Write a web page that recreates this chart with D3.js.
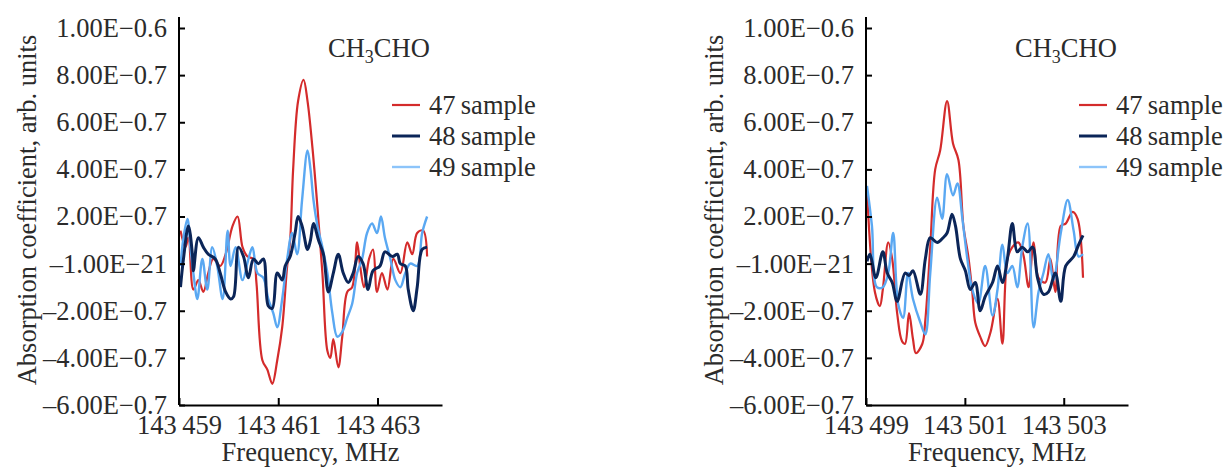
<!DOCTYPE html>
<html>
<head>
<meta charset="utf-8">
<script src="https://cdn.jsdelivr.net/npm/d3@7"></script>
<style>
    body { margin: 0; background: #fff; }
</style>
</head>
<body>
<svg id="chart" width="1224" height="470"></svg>
<script>
// tick values + labels (values in units of 1e-6)
var yTicks = [1.0, 0.8, 0.6, 0.4, 0.2, 0, -0.2, -0.4, -0.6];
var yTickLabels = ["1.00E\u22120.6", "8.00E\u22120.7", "6.00E\u22120.7", "4.00E\u22120.7", "2.00E\u22120.7",
    "\u20131.00E\u221221", "\u20132.00E\u22120.7", "\u20134.00E\u22120.7", "\u20136.00E\u22120.7"];
var leftTicks = [143459, 143461, 143463];
var rightTicks = [143499, 143501, 143503];
var seriesNames = ["47 sample", "48 sample", "49 sample"];

// left panel, sample 47
var leftF47 = [143459.03, 143459.13, 143459.19, 143459.29, 143459.39, 143459.49, 143459.59, 143459.69, 143459.83, 143459.94,
    143460.08, 143460.18, 143460.28, 143460.38, 143460.50, 143460.56, 143460.68, 143460.78, 143460.88, 143460.98,
    143461.08, 143461.18, 143461.24, 143461.30, 143461.40, 143461.51, 143461.59, 143461.69, 143461.79, 143461.89,
    143461.99, 143462.05, 143462.11, 143462.21, 143462.29, 143462.39, 143462.49, 143462.59, 143462.65, 143462.73,
    143462.83, 143462.91, 143462.99, 143463.09, 143463.20, 143463.32, 143463.46, 143463.60, 143463.70, 143463.80,
    143463.92, 143464.00];
var leftV47 = [0.14, 0.07, 0.11, -0.11, -0.07, -0.12, -0.04, 0.02, -0.01, 0.04,
    0.16, 0.20, 0.07, 0.03, 0.02, -0.08, -0.41, -0.45, -0.51, -0.41,
    -0.27, -0.01, 0.10, 0.40, 0.69, 0.78, 0.69, 0.49, 0.24, -0.04,
    -0.37, -0.40, -0.32, -0.44, -0.31, -0.12, -0.10, 0.09, -0.01, -0.10,
    0.02, 0.06, -0.12, -0.04, -0.11, 0.02, -0.04, 0.09, 0.04, 0.13,
    0.14, 0.03];

// left panel, sample 48
var leftF48 = [143459.03, 143459.09, 143459.19, 143459.27, 143459.29, 143459.39, 143459.49, 143459.59, 143459.73, 143459.83,
    143459.94, 143460.04, 143460.10, 143460.20, 143460.30, 143460.40, 143460.50, 143460.60, 143460.70, 143460.80,
    143460.88, 143460.98, 143461.08, 143461.14, 143461.24, 143461.34, 143461.40, 143461.48, 143461.59, 143461.65,
    143461.71, 143461.81, 143461.91, 143462.01, 143462.11, 143462.21, 143462.31, 143462.41, 143462.51, 143462.61,
    143462.71, 143462.81, 143462.91, 143463.05, 143463.15, 143463.30, 143463.40, 143463.46, 143463.56, 143463.62,
    143463.72, 143463.80, 143463.90, 143464.00];
var leftV48 = [-0.10, 0.02, 0.16, 0.04, -0.03, 0.11, 0.07, 0.04, 0.02, -0.04,
    -0.12, -0.15, -0.14, 0.07, 0.03, -0.06, 0.02, 0.00, 0.02, -0.18,
    -0.19, -0.04, -0.07, -0.01, 0.03, 0.13, 0.20, 0.16, 0.06, 0.10,
    0.17, 0.10, 0.04, -0.12, -0.04, 0.04, -0.04, -0.08, -0.04, 0.03,
    0.00, -0.11, -0.03, -0.01, 0.05, 0.03, 0.04, 0.00, -0.01, -0.11,
    -0.20, -0.10, 0.06, 0.07];

// left panel, sample 49
var leftF49 = [143459.03, 143459.09, 143459.17, 143459.23, 143459.29, 143459.37, 143459.47, 143459.57, 143459.67, 143459.77,
    143459.88, 143459.98, 143460.04, 143460.14, 143460.28, 143460.40, 143460.48, 143460.58, 143460.70, 143460.80,
    143460.90, 143460.98, 143461.08, 143461.18, 143461.28, 143461.38, 143461.48, 143461.59, 143461.65, 143461.71,
    143461.79, 143461.89, 143461.99, 143462.09, 143462.19, 143462.29, 143462.39, 143462.49, 143462.59, 143462.69,
    143462.79, 143462.89, 143462.99, 143463.07, 143463.15, 143463.26, 143463.36, 143463.46, 143463.56, 143463.66,
    143463.80, 143463.90, 143464.00];
var leftV49 = [-0.01, 0.11, 0.19, 0.07, -0.04, -0.15, 0.02, -0.11, 0.07, -0.01,
    -0.15, 0.14, -0.01, 0.07, -0.07, 0.02, 0.07, -0.04, -0.06, -0.15,
    -0.21, -0.27, -0.15, 0.02, 0.13, 0.04, 0.27, 0.48, 0.40, 0.27,
    0.16, 0.07, -0.04, -0.21, -0.31, -0.29, -0.23, -0.17, -0.04, 0.02,
    0.13, 0.17, 0.13, 0.20, 0.11, 0.02, -0.07, -0.10, -0.04, 0.00,
    -0.01, 0.13, 0.20];

// right panel, sample 47
var rightF47 = [143499.02, 143499.18, 143499.28, 143499.34, 143499.45, 143499.53, 143499.63, 143499.73, 143499.79, 143499.87,
    143499.95, 143500.01, 143500.14, 143500.20, 143500.30, 143500.40, 143500.50, 143500.64, 143500.76, 143500.87,
    143500.97, 143501.07, 143501.15, 143501.21, 143501.31, 143501.41, 143501.52, 143501.66, 143501.76, 143501.86,
    143501.96, 143502.08, 143502.18, 143502.29, 143502.39, 143502.49, 143502.63, 143502.73, 143502.83, 143502.94,
    143503.04, 143503.18, 143503.28, 143503.39];
var rightV47 = [0.31, -0.12, -0.18, -0.11, 0.09, 0.02, -0.21, -0.33, -0.34, -0.21,
    -0.32, -0.38, -0.34, -0.24, 0.07, 0.40, 0.48, 0.69, 0.51, 0.44,
    0.16, 0.03, -0.12, -0.25, -0.31, -0.35, -0.29, -0.15, -0.34, 0.02,
    0.07, 0.09, 0.04, -0.10, 0.09, -0.06, -0.08, 0.02, -0.12, 0.16,
    0.17, 0.22, 0.19, -0.06];

// right panel, sample 48
var rightF48 = [143499.02, 143499.08, 143499.20, 143499.34, 143499.43, 143499.53, 143499.63, 143499.79, 143499.87, 143499.95,
    143500.10, 143500.20, 143500.30, 143500.44, 143500.56, 143500.64, 143500.74, 143500.81, 143500.91, 143501.01,
    143501.11, 143501.21, 143501.31, 143501.41, 143501.56, 143501.66, 143501.76, 143501.86, 143501.96, 143502.06,
    143502.16, 143502.27, 143502.37, 143502.47, 143502.59, 143502.69, 143502.83, 143502.94, 143503.04, 143503.20,
    143503.30, 143503.39];
var rightV48 = [0.01, 0.04, -0.06, 0.05, -0.04, -0.08, -0.16, -0.04, -0.05, -0.03,
    -0.13, 0.02, 0.11, 0.09, 0.11, 0.13, 0.21, 0.16, 0.02, -0.03,
    -0.11, -0.08, -0.20, -0.14, -0.08, -0.01, -0.08, 0.02, 0.17, 0.05,
    0.07, 0.05, 0.07, -0.06, -0.13, -0.12, -0.04, -0.16, -0.01, 0.03,
    0.08, 0.12];

// right panel, sample 49
var rightF49 = [143499.02, 143499.12, 143499.22, 143499.34, 143499.45, 143499.55, 143499.65, 143499.75, 143499.85, 143499.95,
    143500.10, 143500.20, 143500.30, 143500.44, 143500.54, 143500.64, 143500.76, 143500.85, 143500.95, 143501.05,
    143501.15, 143501.27, 143501.41, 143501.56, 143501.66, 143501.76, 143501.86, 143501.96, 143502.06, 143502.16,
    143502.27, 143502.39, 143502.49, 143502.59, 143502.69, 143502.79, 143502.94, 143503.08, 143503.20, 143503.30,
    143503.39];
var rightV49 = [0.33, 0.16, -0.10, -0.10, -0.04, 0.13, -0.17, -0.23, -0.04, -0.15,
    -0.25, -0.30, -0.04, 0.28, 0.19, 0.38, 0.29, 0.34, 0.19, 0.02,
    -0.11, -0.17, -0.01, -0.22, -0.11, 0.08, -0.04, -0.01, -0.10, 0.07,
    0.17, -0.27, -0.12, -0.04, 0.04, -0.07, 0.13, 0.27, 0.14, 0.03,
    0.04];

var colors = ["#d42b2b", "#0b2558", "#5aa8f2"];
var legendColors = ["#d42b2b", "#0b2558", "#8cc4fa"];
var widths = [2.2, 3, 2.4];
var fs = 26.5;
var textColor = "#2b2b2b";

var svg = d3.select("#chart")
    .attr("font-family", "'Liberation Serif', 'Times New Roman', serif");

const zip = (xs, ys) => xs.map((x, i) => [x, ys[i]]);

// "143459" -> "143 459" with a thin space
const fmtFreq = (d) => {
    let s = String(d);
    return s.slice(0, 3) + "\u2009" + s.slice(3);
}

const drawPanel = (opts) => {
    let g = svg.append("g");

    let x = d3.scaleLinear().domain(opts.xDomain).range([opts.left, opts.right]);
    let y = d3.scaleLinear().domain([-0.6, 1.0]).range([405, 28]);

    // lines: red, light blue, navy on top
    let line = d3.line()
        .x(d => x(d[0]))
        .y(d => y(d[1]))
        .curve(d3.curveCatmullRom.alpha(0.5));

    [0, 2, 1].forEach(function(i) {
        g.append("path")
            .datum(opts.series[i])
            .attr("fill", "none")
            .attr("stroke", colors[i])
            .attr("stroke-width", widths[i])
            .attr("stroke-linejoin", "round")
            .attr("d", line);
    });

    // y axis, ticks pointing inward
    let yAxis = d3.axisLeft(y)
        .tickValues(yTicks)
        .tickFormat((d, i) => yTickLabels[i])
        .tickSizeInner(-6)
        .tickSizeOuter(0)
        .tickPadding(12);
    let yg = g.append("g").attr("transform", "translate(" + opts.left + ",0)").call(yAxis);
    yg.select(".domain").attr("d", "M0,17V405");

    // x axis
    let xAxis = d3.axisBottom(x)
        .tickValues(opts.ticks)
        .tickFormat(fmtFreq)
        .tickSizeInner(-7)
        .tickSizeOuter(0)
        .tickPadding(10);
    let xg = g.append("g").attr("transform", "translate(0,405)").call(xAxis);

    [yg, xg].forEach(function(a) {
        a.attr("font-family", null).attr("font-size", fs);
        a.selectAll("path, line").attr("stroke", "#000").attr("stroke-width", 2);
        a.selectAll("text").attr("fill", textColor);
    });

    // axis titles
    g.append("text")
        .attr("transform", "translate(" + (opts.left - 152) + "," + 210 + ") rotate(-90)")
        .attr("text-anchor", "middle")
        .attr("dy", "0.35em")
        .attr("font-size", fs)
        .attr("fill", textColor)
        .text("Absorption coefficient, arb. units");

    g.append("text")
        .attr("x", (opts.left + opts.right) / 2)
        .attr("y", 461)
        .attr("text-anchor", "middle")
        .attr("font-size", fs)
        .attr("fill", textColor)
        .text("Frequency, MHz");

    // compound label
    let t = g.append("text")
        .attr("x", opts.left + 149)
        .attr("y", 57)
        .attr("font-size", fs)
        .attr("fill", textColor);
    t.append("tspan").text("CH");
    t.append("tspan").attr("font-size", 18).attr("dy", 6).text("3");
    t.append("tspan").attr("dy", -6).text("CHO");

    // legend
    let lg = g.append("g").attr("transform", "translate(" + (opts.left + 213) + ",105)");
    seriesNames.forEach(function(name, i) {
        let row = lg.append("g").attr("transform", "translate(0," + (i * 31) + ")");
        row.append("line")
            .attr("x1", 0).attr("x2", 28)
            .attr("stroke", legendColors[i])
            .attr("stroke-width", widths[i]);
        row.append("text")
            .attr("x", 37)
            .attr("dy", "0.35em")
            .attr("font-size", fs)
            .attr("fill", textColor)
            .text(name.replace(" ", "\u2009"));
    });
}

drawPanel({
    left: 179, right: 442,
    xDomain: [143459, 143464.3],
    ticks: leftTicks,
    series: [zip(leftF47, leftV47), zip(leftF48, leftV48), zip(leftF49, leftV49)]
});

drawPanel({
    left: 866, right: 1128,
    xDomain: [143499, 143504.3],
    ticks: rightTicks,
    series: [zip(rightF47, rightV47), zip(rightF48, rightV48), zip(rightF49, rightV49)]
});
</script>
</body>
</html>
